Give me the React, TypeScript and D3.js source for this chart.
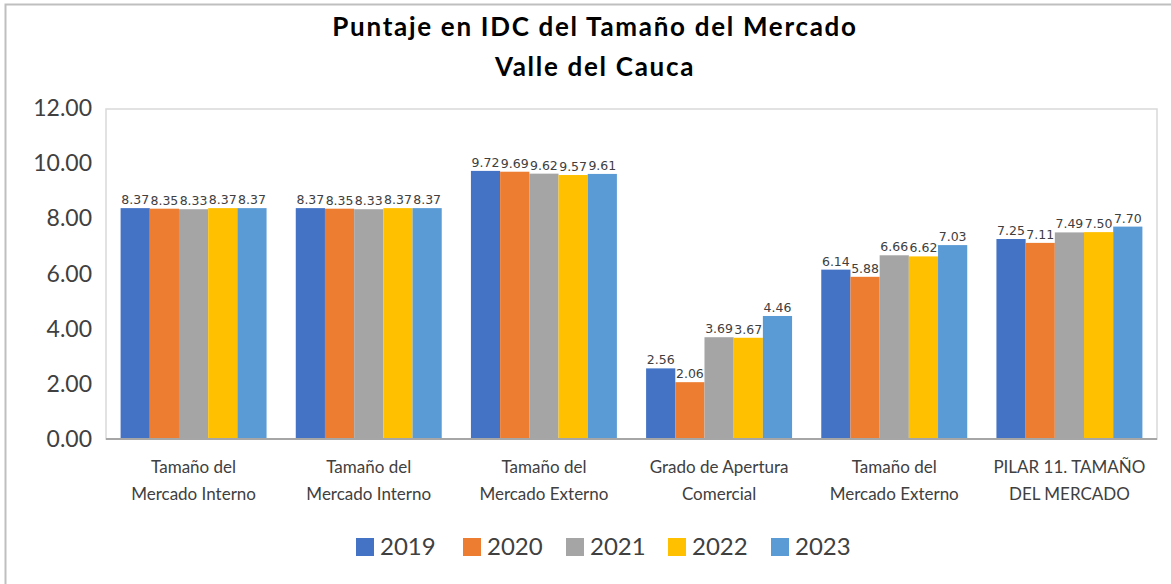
import React from "react";
import * as d3 from "d3";

const categories: string[][] = [
  ["Tamaño del", "Mercado Interno"],
  ["Tamaño del", "Mercado Interno"],
  ["Tamaño del", "Mercado Externo"],
  ["Grado de Apertura", "Comercial"],
  ["Tamaño del", "Mercado Externo"],
  ["PILAR 11. TAMAÑO", "DEL MERCADO"],
];
const years = ["2019", "2020", "2021", "2022", "2023"];
const v2019 = [8.37, 8.37, 9.72, 2.56, 6.14, 7.25];
const v2020 = [8.35, 8.35, 9.69, 2.06, 5.88, 7.11];
const v2021 = [8.33, 8.33, 9.62, 3.69, 6.66, 7.49];
const v2022 = [8.37, 8.37, 9.57, 3.67, 6.62, 7.5];
const v2023 = [8.37, 8.37, 9.61, 4.46, 7.03, 7.7];
const series = [v2019, v2020, v2021, v2022, v2023];
const colors = ["#4472C4", "#ED7D31", "#A5A5A5", "#FFC000", "#5B9BD5"];
const yTicks = [0, 2, 4, 6, 8, 10, 12];
const titleLines = ["Puntaje en IDC del Tamaño del Mercado", "Valle del Cauca"];

const W = 1171;
const H = 584;
const plot = { left: 106, right: 1157, top: 109, bottom: 439 };
const font = "Lato, 'Open Sans', sans-serif";

export default function App() {
  const x0 = d3
    .scaleBand<number>()
    .domain(categories.map((_, i) => i))
    .range([plot.left, plot.right])
    .paddingInner(0)
    .paddingOuter(0);
  const x1 = d3
    .scaleBand<number>()
    .domain(years.map((_, i) => i))
    .range([0, x0.bandwidth()])
    .paddingInner(0)
    .paddingOuter(0.5);
  const y = d3.scaleLinear().domain([0, 12]).range([plot.bottom, 108]);

  const legendX = [356, 463, 566, 668, 771];

  return (
    <svg
      width={W}
      height={H}
      style={{ position: "absolute", left: 0, top: 0 }}
    >
      <rect x={0} y={0} width={W} height={H} fill="#fff" />
      <rect x={5.5} y={4.5} width={W + 20} height={H + 20} fill="none" stroke="#BFBFBF" strokeWidth={2} />
      {titleLines.map((t, i) => (
        <text
          key={i}
          x={595}
          y={36 + i * 40}
          textAnchor="middle"
          fontFamily={font}
          fontWeight="bold"
          fontSize={26}
          letterSpacing={1.7}
          fill="#000"
        >
          {t}
        </text>
      ))}
      <rect
        x={plot.left}
        y={plot.top}
        width={plot.right - plot.left}
        height={plot.bottom - plot.top}
        fill="none"
        stroke="#D9D9D9"
        strokeWidth={1.5}
      />
      {yTicks.map((t) => (
        <text
          key={t}
          x={92}
          y={y(t)}
          dy="0.35em"
          textAnchor="end"
          fontFamily={font}
          fontSize={23}
          fill="#404040"
        >
          {t.toFixed(2)}
        </text>
      ))}
      {series.map((vals, si) =>
        vals.map((v, ci) => {
          const bx = (x0(ci) as number) + (x1(si) as number);
          return (
            <g key={`${si}-${ci}`}>
              <rect
                x={bx}
                y={y(v)}
                width={x1.bandwidth()}
                height={plot.bottom - y(v)}
                fill={colors[si]}
              />
              <text
                x={bx + x1.bandwidth() / 2}
                y={y(v) - 4}
                textAnchor="middle"
                fontFamily="'DejaVu Sans', sans-serif"
                fontSize={12.5}
                fill="#404040"
              >
                {v.toFixed(2)}
              </text>
            </g>
          );
        })
      )}
      <line x1={plot.left} x2={plot.right} y1={plot.bottom} y2={plot.bottom} stroke="#A6A6A6" strokeWidth={2} />
      {categories.map((lines, ci) => (
        <text
          key={ci}
          x={(x0(ci) as number) + x0.bandwidth() / 2}
          y={473}
          textAnchor="middle"
          fontFamily={font}
          fontSize={17}
          fill="#404040"
        >
          {lines.map((l, li) => (
            <tspan key={li} x={(x0(ci) as number) + x0.bandwidth() / 2} dy={li === 0 ? 0 : 27}>
              {l}
            </tspan>
          ))}
        </text>
      ))}
      {years.map((yr, i) => (
        <g key={yr}>
          <rect x={legendX[i]} y={538} width={18} height={18} fill={colors[i]} />
          <text
            x={legendX[i] + 24}
            y={547}
            dy="0.35em"
            fontFamily={font}
            fontSize={24}
            fill="#404040"
          >
            {yr}
          </text>
        </g>
      ))}
    </svg>
  );
}
